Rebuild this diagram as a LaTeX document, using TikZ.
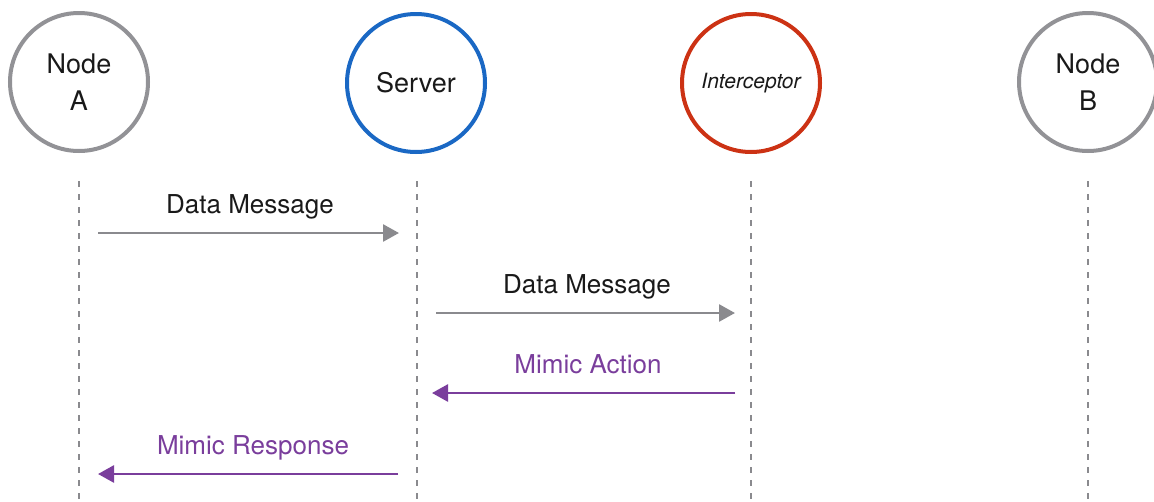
\documentclass[tikz,border=0pt]{standalone}
\usepackage{fontspec}
\setmainfont{TeX Gyre Heros}
\usetikzlibrary{arrows.meta}
\definecolor{lifegray}{HTML}{8A8A8E}
\definecolor{ringgray}{HTML}{929296}
\definecolor{servblue}{HTML}{1A68C4}
\definecolor{intred}{HTML}{CC3214}
\definecolor{mimic}{HTML}{7A3E9C}
\tikzset{
  actor/.style={circle, draw=#1, line width=4pt, minimum size=138pt, inner sep=0pt,
    align=center, font=\fontsize{27}{37}\selectfont, text=black!90},
  lifeline/.style={draw=lifegray, line width=2.6pt, dash pattern=on 6pt off 7pt},
  msg/.style={line width=2.7pt, -{Triangle[length=16pt,width=17pt]}},
  datamsg/.style={msg, draw=lifegray, fill=lifegray},
  mimicmsg/.style={msg, draw=mimic, fill=mimic},
  msglabel/.style={font=\fontsize{26}{30}\selectfont, inner sep=0pt, anchor=base},
}
\begin{document}
\begin{tikzpicture}[x=1pt,y=-1pt]
\useasboundingbox (0,0) rectangle (1154,501);

% participants
\node[actor=ringgray] (A) at (79,82) {Node\\A};
\node[actor=servblue] (S) at (416,83) {Server};
\node[actor=intred] (I) at (751,83) {\fontsize{21}{25}\selectfont\itshape Interceptor};
\node[actor=ringgray] (B) at (1088,82) {Node\\B};

% lifelines
\coordinate (Atop) at (79,181);  \coordinate (Abot) at (79,501);
\coordinate (Stop) at (417,181); \coordinate (Sbot) at (417,501);
\coordinate (Itop) at (751,181); \coordinate (Ibot) at (751,501);
\coordinate (Btop) at (1088,181); \coordinate (Bbot) at (1088,501);
\draw[lifeline] (Atop) -- (Abot);
\draw[lifeline] (Stop) -- (Sbot);
\draw[lifeline] (Itop) -- (Ibot);
\draw[lifeline] (Btop) -- (Bbot);

% message end points
\coordinate (m1a) at (98,233);  \coordinate (m1b) at (399,233);
\coordinate (m2a) at (436,313); \coordinate (m2b) at (735,313);
\coordinate (m3a) at (735,393); \coordinate (m3b) at (432,393);
\coordinate (m4a) at (398,474); \coordinate (m4b) at (98,474);

% messages
\draw[datamsg] (m1a) -- (m1b);
\draw[datamsg] (m2a) -- (m2b);
\draw[mimicmsg] (m3a) -- (m3b);
\draw[mimicmsg] (m4a) -- (m4b);

% message labels
\node[msglabel, text=black!90] (l1) at (250,213) {Data Message};
\node[msglabel, text=black!90] (l2) at (587,293) {Data Message};
\node[msglabel, text=mimic] (l3) at (588,373) {Mimic Action};
\node[msglabel, text=mimic] (l4) at (253,454) {Mimic Response};
\end{tikzpicture}
\end{document}
